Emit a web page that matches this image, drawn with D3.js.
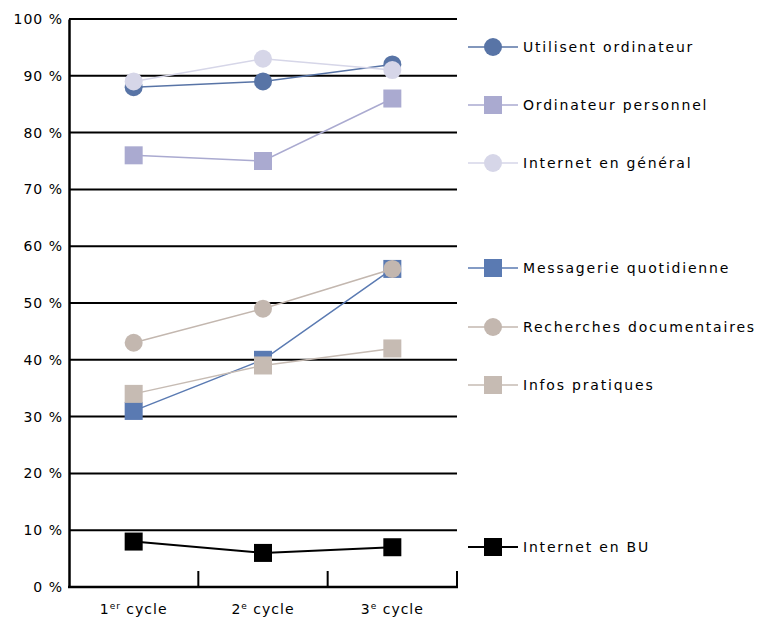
<!DOCTYPE html>
<html><head><meta charset="utf-8">
<script src="https://cdn.jsdelivr.net/npm/d3@7"></script>
<style>body{margin:0;background:#fff}svg{display:block}text{font-family:"DejaVu Sans",sans-serif;fill:#000;letter-spacing:1px}</style>
</head><body><svg width="757" height="621"></svg>
<script>
const categories = ["1er cycle","2e cycle","3e cycle"];
const catMain = ["1","2","3"];
const catSup = ["er","e","e"];
const seriesNames = ["Utilisent ordinateur","Ordinateur personnel","Internet en général","Messagerie quotidienne","Recherches documentaires","Infos pratiques","Internet en BU"];
const utilisent = [88, 89, 92];
const ordiPerso = [76, 75, 86];
const internetGen = [89, 93, 91];
const messagerie = [31, 40, 56];
const recherches = [43, 49, 56];
const infos = [34, 39, 42];
const internetBU = [8, 6, 7];
const yTicks = [0,10,20,30,40,50,60,70,80,90,100];

const series = [
  {name:seriesNames[0], values:utilisent, color:"#5874a6", shape:"circle"},
  {name:seriesNames[1], values:ordiPerso, color:"#aaaad0", shape:"square"},
  {name:seriesNames[2], values:internetGen, color:"#d6d6e8", shape:"circle"},
  {name:seriesNames[3], values:messagerie, color:"#5a7ab2", shape:"square"},
  {name:seriesNames[4], values:recherches, color:"#c3b7af", shape:"circle"},
  {name:seriesNames[5], values:infos, color:"#c6bbb3", shape:"square"},
  {name:seriesNames[6], values:internetBU, color:"#000000", shape:"square"}
];
const legendY = [47,105,163,268,327,385,547];

const svg = d3.select("svg");
const x = d3.scaleBand().domain(categories).range([69,457]);
const y = d3.scaleLinear().domain([0,100]).range([587,19]);

svg.append("g").selectAll("line").data(yTicks.filter(d=>d>0)).join("line")
  .attr("x1",69).attr("x2",457).attr("y1",d=>y(d)).attr("y2",d=>y(d))
  .attr("stroke","#000").attr("stroke-width",2);

const ya = svg.append("g").attr("transform","translate(69,0)")
  .call(d3.axisLeft(y).tickValues(yTicks).tickSize(0).tickPadding(6).tickFormat(d=>d+" %"));
ya.select(".domain").attr("stroke","#000").attr("stroke-width",2.5);
ya.selectAll("text").attr("font-size",14).attr("font-family","DejaVu Sans, sans-serif");

svg.append("line").attr("x1",68).attr("x2",458).attr("y1",y(0)).attr("y2",y(0)).attr("stroke","#000").attr("stroke-width",2.5);
svg.append("g").selectAll("line").data(categories).join("line")
  .attr("x1",d=>x(d)+x.bandwidth()).attr("x2",d=>x(d)+x.bandwidth())
  .attr("y1",y(0)).attr("y2",y(0)-16).attr("stroke","#000").attr("stroke-width",2);
const xl = svg.append("g").selectAll("text").data(categories).join("text")
  .attr("x",d=>x(d)+x.bandwidth()/2).attr("y",614).attr("text-anchor","middle").attr("font-size",14);
xl.append("tspan").text((d,i)=>catMain[i]);
xl.append("tspan").attr("font-size",9).attr("dy",-5).text((d,i)=>catSup[i]);
xl.append("tspan").attr("dy",5).text(" cycle");

const cx = d=>x(d)+x.bandwidth()/2;
const line = d3.line().x((d,i)=>cx(categories[i])).y(d=>y(d));

function marker(g, shape, color, px, py){
  if(shape==="square"){
    g.append("rect").attr("x",px-9).attr("y",py-9).attr("width",18).attr("height",18).attr("fill",color);
  } else {
    g.append("circle").attr("cx",px).attr("cy",py).attr("r",9).attr("fill",color);
  }
}

series.forEach(s=>{
  const g = svg.append("g");
  g.append("path").datum(s.values).attr("d",line).attr("fill","none")
    .attr("stroke",s.color).attr("stroke-width",s.color==="#000000"?2:1.5);
  s.values.forEach((v,i)=>marker(g,s.shape,s.color,cx(categories[i]),y(v)));
});

series.forEach((s,i)=>{
  const g = svg.append("g");
  const ly = legendY[i];
  g.append("line").attr("x1",468).attr("x2",518).attr("y1",ly).attr("y2",ly)
    .attr("stroke",s.color).attr("stroke-width",s.color==="#000000"?2:1.5);
  marker(g,s.shape,s.color,493,ly);
  g.append("text").attr("x",523).attr("y",ly).attr("dy","0.35em").attr("font-size",14)
    .style("letter-spacing","1.8px").text(s.name);
});
</script></body></html>
